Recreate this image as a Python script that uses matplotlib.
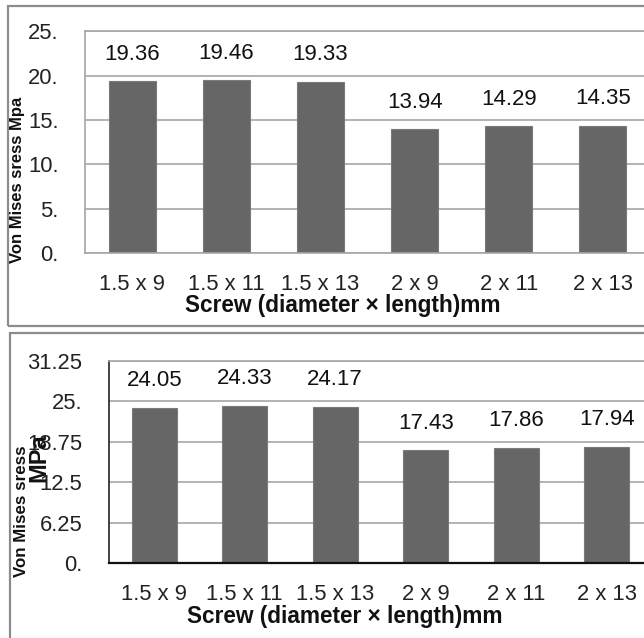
import matplotlib
matplotlib.use("Agg")
from matplotlib import pyplot as plt
from matplotlib.patches import Rectangle

plt.rcParams["font.family"] = ["Liberation Sans", "DejaVu Sans"]

screws = ["1.5 x 9", "1.5 x 11", "1.5 x 13", "2 x 9", "2 x 11", "2 x 13"]
stress_top = [19.36, 19.46, 19.33, 13.94, 14.29, 14.35]
stress_bottom = [24.05, 24.33, 24.17, 17.43, 17.86, 17.94]
ticks_top = [0, 5, 10, 15, 20, 25]
ticklabels_top = ["0.", "5.", "10.", "15.", "20.", "25."]
ticks_bottom = [0, 6.25, 12.5, 18.75, 25, 31.25]
ticklabels_bottom = ["0.", "6.25", "12.5", "18.75", "25.", "31.25"]

W, H = 644, 638
BAR = "#666666"
GRID = "#a6a6a6"
FS = 15.8


def fx(px):
    return px / W


def fy(py):
    return 1 - py / H


def draw(ax, values, ticks, labels, dark_axes):
    x = range(len(values))
    ax.set_axisbelow(True)
    ax.bar(x, values, width=0.5, color=BAR, edgecolor="#7a7a7a", linewidth=0.8)
    ax.set_xlim(-0.5, len(values) - 0.5)
    ax.set_ylim(ticks[0], ticks[-1])
    ax.set_yticks(ticks)
    ax.set_yticklabels(labels)
    ax.set_xticks(list(x))
    ax.set_xticklabels(screws)
    ax.tick_params(axis="y", length=0, pad=19, labelsize=FS, colors="#222222")
    ax.tick_params(axis="x", length=0, pad=15, labelsize=FS, colors="#222222")
    ax.yaxis.grid(True, color=GRID, linewidth=1.2)
    for s in ["top", "left", "bottom", "right"]:
        ax.spines[s].set_color(GRID)
        ax.spines[s].set_linewidth(1.2)
    if dark_axes:
        ax.spines["left"].set_color("#222222")
        ax.spines["bottom"].set_color("#111111")
        ax.spines["bottom"].set_linewidth(1.6)
    for i, v in enumerate(values):
        ax.annotate(f"{v:.2f}", (i, v), xytext=(0, 19.5), textcoords="offset points",
                    ha="center", va="center", fontsize=16, color="#111111")


fig = plt.figure(figsize=(W / 100, H / 100), dpi=100)

# panel frames
fig.patches.append(Rectangle((fx(8), fy(326)), 1.0, fy(6) - fy(326), transform=fig.transFigure,
                             fill=False, edgecolor="#8c8c8c", linewidth=1.6))
fig.patches.append(Rectangle((fx(10), fy(660)), 1.0, fy(333) - fy(660), transform=fig.transFigure,
                             fill=False, edgecolor="#8c8c8c", linewidth=1.6))

ax1 = fig.add_axes([fx(85), fy(253), fx(650) - fx(85), fy(31.3) - fy(253)])
draw(ax1, stress_top, ticks_top, ticklabels_top, False)

ax2 = fig.add_axes([fx(109), fy(563), fx(652) - fx(109), fy(361) - fy(563)])
draw(ax2, stress_bottom, ticks_bottom, ticklabels_bottom, True)

fig.text(fx(17.5), fy(180), "Von Mises sress Mpa", rotation=90, ha="center", va="center",
         fontsize=12, fontweight="bold", color="#111111")
fig.text(fx(343), fy(306), "Screw (diameter \u00d7 length)mm", ha="center", va="center",
         fontsize=16.3, fontweight="bold", color="#111111")

fig.text(fx(21.5), fy(511), "Von Mises sress", rotation=90, ha="center", va="center",
         fontsize=12.2, fontweight="bold", color="#111111")
fig.text(fx(39), fy(458), "MPa", rotation=90, ha="center", va="center",
         fontsize=17, fontweight="bold", color="#111111")
fig.text(fx(345), fy(617), "Screw (diameter \u00d7 length)mm", ha="center", va="center",
         fontsize=16.3, fontweight="bold", color="#111111")

fig.savefig("out.png", dpi=100)
